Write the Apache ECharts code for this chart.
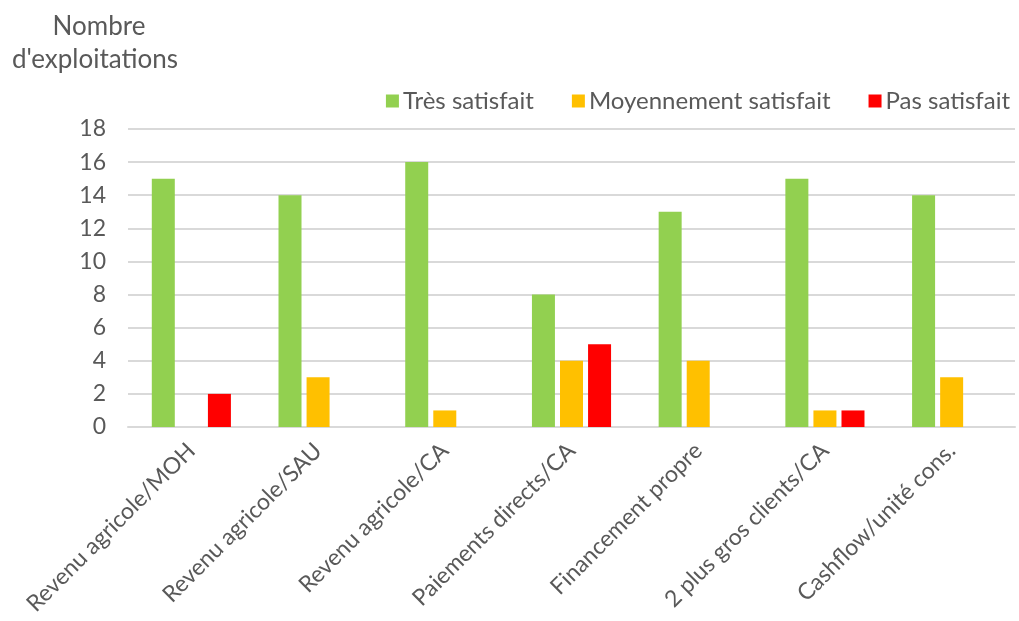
<!DOCTYPE html>
<html>
<head>
<meta charset="utf-8">
<script src="https://cdn.jsdelivr.net/npm/echarts@6/dist/echarts.min.js"></script>
<style>
  html, body { margin: 0; padding: 0; background: #fff; }
  #chart { width: 1019px; height: 621px; }
</style>
</head>
<body>
<div id="chart"></div>
<script>
// Indicateurs évalués
const categories = [
  'Revenu agricole/MOH',
  'Revenu agricole/SAU',
  'Revenu agricole/CA',
  'Paiements directs/CA',
  'Financement propre',
  '2 plus gros clients/CA',
  'Cashflow/unité cons.'
];

// Nombre d'exploitations par niveau de satisfaction
const tresSatisfait = [15, 14, 16, 8, 13, 15, 14];
const moyennementSatisfait = [0, 3, 1, 4, 4, 1, 3];
const pasSatisfait = [2, 0, 0, 5, 0, 1, 0];

const seriesNames = ['Très satisfait', 'Moyennement satisfait', 'Pas satisfait'];
const yTicks = { min: 0, max: 18, interval: 2 };
const yTitle = ['Nombre', "d'exploitations"];

const FONT = 'Lato, "Open Sans", sans-serif';
const TEXT = '#595959';

const chart = echarts.init(document.getElementById('chart'), null, { renderer: 'canvas' });

function bar(name, data, color) {
  return {
    name: name,
    type: 'bar',
    data: data,
    barWidth: 23,
    barGap: '22%',
    itemStyle: { color: color },
    emphasis: { disabled: true }
  };
}

chart.setOption({
  animation: false,
  textStyle: { fontFamily: FONT },
  graphic: yTitle.map((line, i) => ({
    type: 'text',
    x: i === 0 ? 99 : 95,
    y: 27 + i * 33,
    style: {
      text: line,
      fontFamily: FONT,
      fontSize: 26,
      fill: TEXT,
      align: 'center',
      verticalAlign: 'middle'
    }
  })),
  legend: {
    right: 4,
    top: 84,
    itemWidth: 13,
    itemHeight: 13,
    itemGap: 38,
    icon: 'rect',
    textStyle: { fontFamily: FONT, fontSize: 24, color: TEXT, padding: [0, 0, 0, -1] },
    data: seriesNames
  },
  grid: { left: 128, right: 4, top: 129, bottom: 194, containLabel: false },
  xAxis: {
    type: 'category',
    data: categories,
    axisLine: { show: true, lineStyle: { color: '#d9d9d9', width: 2 } },
    axisTick: { show: false },
    axisLabel: {
      rotate: 45,
      interval: 0,
      margin: 20,
      fontFamily: FONT,
      fontSize: 23,
      color: TEXT
    }
  },
  yAxis: {
    type: 'value',
    min: yTicks.min,
    max: yTicks.max,
    interval: yTicks.interval,
    axisLine: { show: false },
    axisTick: { show: false },
    splitLine: { lineStyle: { color: '#d9d9d9', width: 2 } },
    axisLabel: { margin: 22, fontFamily: FONT, fontSize: 23, color: TEXT }
  },
  series: [
    bar(seriesNames[0], tresSatisfait, '#92d050'),
    bar(seriesNames[1], moyennementSatisfait, '#ffc000'),
    bar(seriesNames[2], pasSatisfait, '#ff0000')
  ]
});
</script>
</body>
</html>
